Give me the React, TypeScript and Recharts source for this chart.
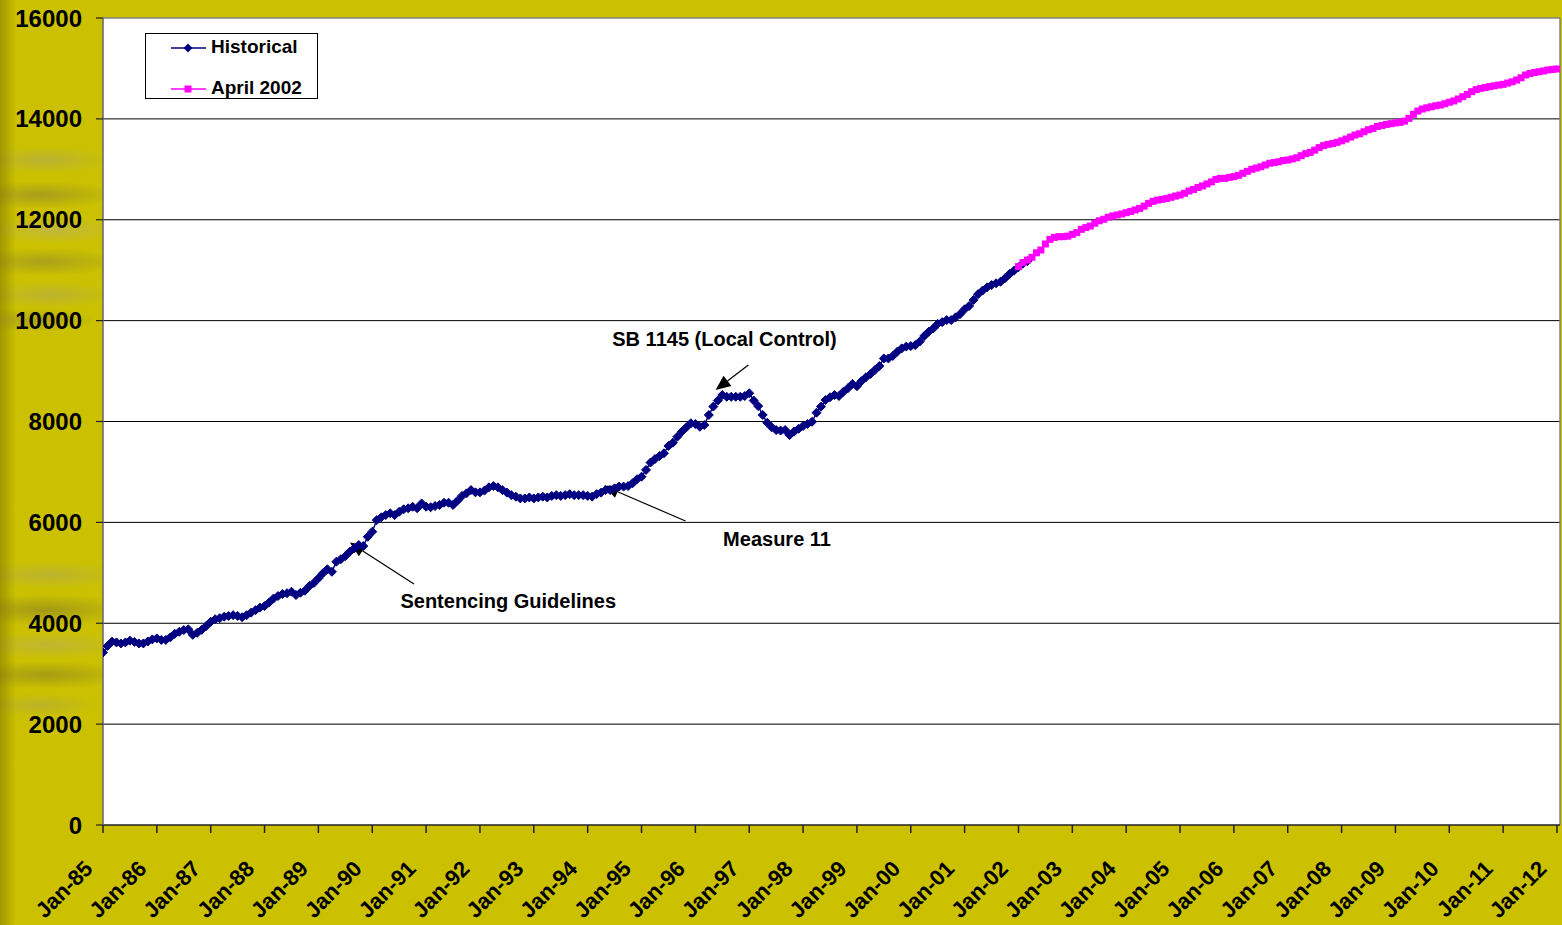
import React from "react";
import { LineChart, Line, XAxis, YAxis, CartesianGrid, ReferenceLine, ReferenceDot } from "recharts";

const FONT = '"Liberation Sans", Arial, sans-serif';
const NAVY = "#000080";
const PINK = "#ff00ff";

// x axis: months since Jan-85, one tick per January
const YEAR_LABELS = [
  "Jan-85", "Jan-86", "Jan-87", "Jan-88", "Jan-89", "Jan-90", "Jan-91", "Jan-92", "Jan-93", "Jan-94",
  "Jan-95", "Jan-96", "Jan-97", "Jan-98", "Jan-99", "Jan-00", "Jan-01", "Jan-02", "Jan-03", "Jan-04",
  "Jan-05", "Jan-06", "Jan-07", "Jan-08", "Jan-09", "Jan-10", "Jan-11", "Jan-12",
];
const Y_TICKS = [0, 2000, 4000, 6000, 8000, 10000, 12000, 14000, 16000];

// monthly population, Jan-85 .. Mar-02
const HIST_START = 0;
const HISTORICAL = [
  3420, 3550, 3635, 3620, 3600, 3620, 3655, 3630, 3600, 3600, 3640, 3680, // 1985
  3700, 3670, 3670, 3720, 3790, 3830, 3865, 3880, 3770, 3810, 3870, 3945, // 1986
  4030, 4080, 4100, 4130, 4145, 4160, 4145, 4120, 4160, 4210, 4260, 4310, // 1987
  4340, 4410, 4490, 4540, 4580, 4595, 4625, 4560, 4605, 4645, 4740, 4800, // 1988
  4890, 4990, 5070, 5020, 5220, 5270, 5330, 5420, 5485, 5550, 5530, 5715, // 1989
  5815, 6045, 6100, 6145, 6180, 6145, 6210, 6260, 6280, 6310, 6280, 6375, // 1990
  6310, 6300, 6325, 6345, 6390, 6390, 6345, 6430, 6525, 6575, 6640, 6595, // 1991
  6595, 6630, 6695, 6720, 6695, 6640, 6590, 6540, 6510, 6475, 6475, 6495, // 1992
  6475, 6495, 6510, 6495, 6525, 6540, 6525, 6540, 6560, 6540, 6540, 6540, // 1993
  6525, 6510, 6560, 6590, 6640, 6640, 6675, 6710, 6710, 6720, 6775, 6855, // 1994
  6905, 7040, 7185, 7255, 7315, 7370, 7515, 7580, 7700, 7800, 7885, 7965, // 1995
  7950, 7895, 7930, 8130, 8295, 8415, 8525, 8490, 8490, 8490, 8490, 8505, // 1996
  8560, 8415, 8305, 8130, 7975, 7885, 7830, 7820, 7830, 7730, 7800, 7855, // 1997
  7910, 7950, 7995, 8175, 8295, 8425, 8480, 8525, 8505, 8590, 8660, 8745, // 1998
  8700, 8800, 8875, 8940, 9020, 9100, 9250, 9250, 9300, 9385, 9450, 9485, // 1999
  9495, 9515, 9585, 9695, 9780, 9845, 9935, 9970, 10010, 10010, 10065, 10130, // 2000
  10225, 10290, 10410, 10525, 10595, 10660, 10705, 10740, 10770, 10840, 10925, 10990, // 2001
  11060, 11130, 11180, // 2002
];

// April 2002 forecast, Jan-02 .. Jan-12
const FORECAST_START = 204;
const FORECAST = [
  11070, 11150, 11200, 11255, 11345, 11400, 11520, 11610, 11650, 11665, 11665, 11675, // 2002
  11710, 11745, 11810, 11845, 11875, 11930, 11980, 12010, 12050, 12075, 12095, 12115, // 2003
  12140, 12165, 12195, 12225, 12270, 12325, 12365, 12390, 12405, 12420, 12445, 12470, // 2004
  12490, 12525, 12570, 12600, 12640, 12670, 12710, 12750, 12800, 12820, 12820, 12840, // 2005
  12855, 12880, 12920, 12960, 13000, 13025, 13050, 13085, 13120, 13135, 13150, 13175, // 2006
  13185, 13205, 13230, 13270, 13310, 13335, 13380, 13430, 13470, 13495, 13510, 13535, // 2007
  13565, 13600, 13640, 13680, 13705, 13745, 13785, 13810, 13850, 13870, 13890, 13905, // 2008
  13920, 13930, 13955, 14010, 14090, 14155, 14195, 14220, 14240, 14260, 14275, 14300, // 2009
  14330, 14355, 14395, 14440, 14485, 14540, 14580, 14605, 14620, 14640, 14655, 14670, // 2010
  14685, 14710, 14735, 14770, 14815, 14870, 14900, 14920, 14935, 14950, 14970, 14980, // 2011
  14990, // Jan-12
];

const ANNOTATIONS = [
  { text: "SB 1145 (Local Control)", label: [138.5, 9640], tail: [143.8, 9120], head: [136.5, 8624] },
  { text: "Measure 11", label: [150.2, 5680], tail: [129.8, 6027], head: [111.6, 6725] },
  { text: "Sentencing Guidelines", label: [90.3, 4450], tail: [69.3, 4778], head: [55.0, 5600] },
];

const LAST_MONTH = (YEAR_LABELS.length - 1) * 12;
const X_TICKS = YEAR_LABELS.map((_, i) => i * 12);

const rows = Array.from({ length: LAST_MONTH + 1 }, (_, m) => {
  const h = m - HIST_START;
  const f = m - FORECAST_START;
  return {
    m,
    hist: h >= 0 && h < HISTORICAL.length ? HISTORICAL[h] : null,
    fc: f >= 0 && f < FORECAST.length ? FORECAST[f] : null,
  };
});

const Diamond = (p: any) => {
  const { cx, cy, index } = p;
  if (cx == null || cy == null) return <g key={"d" + index} />;
  const r = 4.5;
  return (
    <polygon
      key={"d" + index}
      points={`${cx},${cy - r} ${cx + r},${cy} ${cx},${cy + r} ${cx - r},${cy}`}
      fill={NAVY}
      stroke={NAVY}
      strokeWidth={1}
    />
  );
};

const Square = (p: any) => {
  const { cx, cy, index } = p;
  if (cx == null || cy == null) return <g key={"s" + index} />;
  return <rect key={"s" + index} x={cx - 3.5} y={cy - 3.5} width={7} height={7} fill={PINK} />;
};

const Arrow = (p: any) => {
  const { x1, y1, x2, y2 } = p;
  const a = Math.atan2(y2 - y1, x2 - x1);
  const len = 15;
  const w = 6.5;
  const bx = x2 - len * Math.cos(a);
  const by = y2 - len * Math.sin(a);
  const px = -Math.sin(a) * w;
  const py = Math.cos(a) * w;
  return (
    <g>
      <line x1={x1} y1={y1} x2={bx} y2={by} stroke="#000" strokeWidth={1.2} />
      <polygon points={`${x2},${y2} ${bx + px},${by + py} ${bx - px},${by - py}`} fill="#000" />
    </g>
  );
};

const XTick = (p: any) => {
  const { x, y, payload } = p;
  const tx = x - 9;
  const ty = y + 37;
  return (
    <text
      x={tx}
      y={ty}
      textAnchor="end"
      transform={`rotate(-45, ${tx}, ${ty})`}
      fill="#000"
      fontSize={22}
      fontWeight="bold"
      fontFamily={FONT}
    >
      {YEAR_LABELS[Math.round(payload.value / 12)]}
    </text>
  );
};

const BACKGROUND = [
  "linear-gradient(to right, rgba(110,100,0,0.45) 0px, rgba(110,100,0,0) 16px)",
  "radial-gradient(ellipse 70px 14px at 45px 160px, rgba(175,165,95,0.55), rgba(175,165,95,0))",
  "radial-gradient(ellipse 80px 14px at 40px 195px, rgba(140,130,50,0.55), rgba(140,130,50,0))",
  "radial-gradient(ellipse 70px 14px at 55px 230px, rgba(185,175,110,0.55), rgba(185,175,110,0))",
  "radial-gradient(ellipse 80px 14px at 45px 262px, rgba(140,130,50,0.5), rgba(140,130,50,0))",
  "radial-gradient(ellipse 70px 14px at 50px 295px, rgba(175,165,95,0.5), rgba(175,165,95,0))",
  "radial-gradient(ellipse 60px 12px at 35px 320px, rgba(140,130,60,0.45), rgba(140,130,60,0))",
  "radial-gradient(ellipse 80px 14px at 50px 575px, rgba(175,165,95,0.5), rgba(175,165,95,0))",
  "radial-gradient(ellipse 90px 16px at 45px 610px, rgba(130,120,40,0.55), rgba(130,120,40,0))",
  "radial-gradient(ellipse 80px 14px at 50px 645px, rgba(180,170,100,0.5), rgba(180,170,100,0))",
  "radial-gradient(ellipse 90px 14px at 45px 675px, rgba(130,120,40,0.5), rgba(130,120,40,0))",
  "radial-gradient(ellipse 60px 12px at 40px 705px, rgba(170,160,90,0.45), rgba(170,160,90,0))",
  "#cbc100",
].join(", ");

const legendText: React.CSSProperties = {
  position: "absolute",
  left: 65,
  fontFamily: FONT,
  fontWeight: "bold",
  fontSize: 19,
  color: "#000",
  lineHeight: "20px",
};

export default function App() {
  return (
    <div style={{ position: "relative", width: 1562, height: 925, background: BACKGROUND, overflow: "hidden" }}>
      <style>{"body{margin:0}"}</style>
      <LineChart width={1562} height={925} data={rows} margin={{ top: 18, right: 2, bottom: 0, left: 0 }}>
        <CartesianGrid fill="#ffffff" horizontal={false} vertical={false} />
        {Y_TICKS.slice(1, -1).map((v) => (
          <ReferenceLine key={v} y={v} stroke="#000" strokeWidth={1} />
        ))}
        <ReferenceLine y={16000} stroke="#808080" strokeWidth={1.5} />
        <ReferenceLine x={LAST_MONTH + 0.67} stroke="#808080" strokeWidth={1.5} />
        <XAxis
          type="number"
          dataKey="m"
          domain={[0, LAST_MONTH + 0.67]}
          ticks={X_TICKS}
          interval={0}
          height={100}
          tickSize={8}
          tickMargin={0}
          axisLine={{ stroke: "#222", strokeWidth: 1.5 }}
          tickLine={{ stroke: "#222", strokeWidth: 1.5 }}
          tick={<XTick />}
          allowDataOverflow
        />
        <YAxis
          domain={[0, 16000]}
          ticks={Y_TICKS}
          interval={0}
          width={103}
          tickSize={7}
          tickMargin={14}
          axisLine={{ stroke: "#666", strokeWidth: 1.5 }}
          tickLine={{ stroke: "#222", strokeWidth: 1.2 }}
          tick={{ fill: "#000", fontSize: 24, fontWeight: "bold", fontFamily: FONT }}
          allowDataOverflow
        />
        {ANNOTATIONS.map((a) => (
          <ReferenceLine
            key={a.text}
            segment={[
              { x: a.tail[0], y: a.tail[1] },
              { x: a.head[0], y: a.head[1] },
            ]}
            shape={<Arrow />}
            ifOverflow="visible"
          />
        ))}
        {ANNOTATIONS.map((a) => (
          <ReferenceDot
            key={a.text + "-label"}
            x={a.label[0]}
            y={a.label[1]}
            r={0}
            fill="none"
            stroke="none"
            label={{
              value: a.text,
              position: "center",
              fill: "#000",
              fontSize: 20,
              fontWeight: "bold",
              fontFamily: FONT,
            }}
          />
        ))}
        <Line
          dataKey="hist"
          stroke={NAVY}
          strokeWidth={1.5}
          dot={Diamond}
          activeDot={false}
          isAnimationActive={false}
          connectNulls={false}
        />
        <Line
          dataKey="fc"
          stroke={PINK}
          strokeWidth={1.5}
          dot={Square}
          activeDot={false}
          isAnimationActive={false}
          connectNulls={false}
        />
      </LineChart>
      <div
        style={{
          position: "absolute",
          left: 145,
          top: 33,
          width: 171,
          height: 64,
          background: "#fff",
          border: "1px solid #000",
        }}
      >
        <svg style={{ position: "absolute", left: 0, top: 0 }} width={171} height={64}>
          <line x1={25} y1={14} x2={60} y2={14} stroke={NAVY} strokeWidth={1.5} />
          <polygon points="42,9.5 46.5,14 42,18.5 37.5,14" fill={NAVY} />
          <line x1={25} y1={55} x2={60} y2={55} stroke={PINK} strokeWidth={1.5} />
          <rect x={38.5} y={51.5} width={7} height={7} fill={PINK} />
        </svg>
        <div style={{ ...legendText, top: 3 }}>Historical</div>
        <div style={{ ...legendText, top: 44 }}>April 2002</div>
      </div>
    </div>
  );
}
